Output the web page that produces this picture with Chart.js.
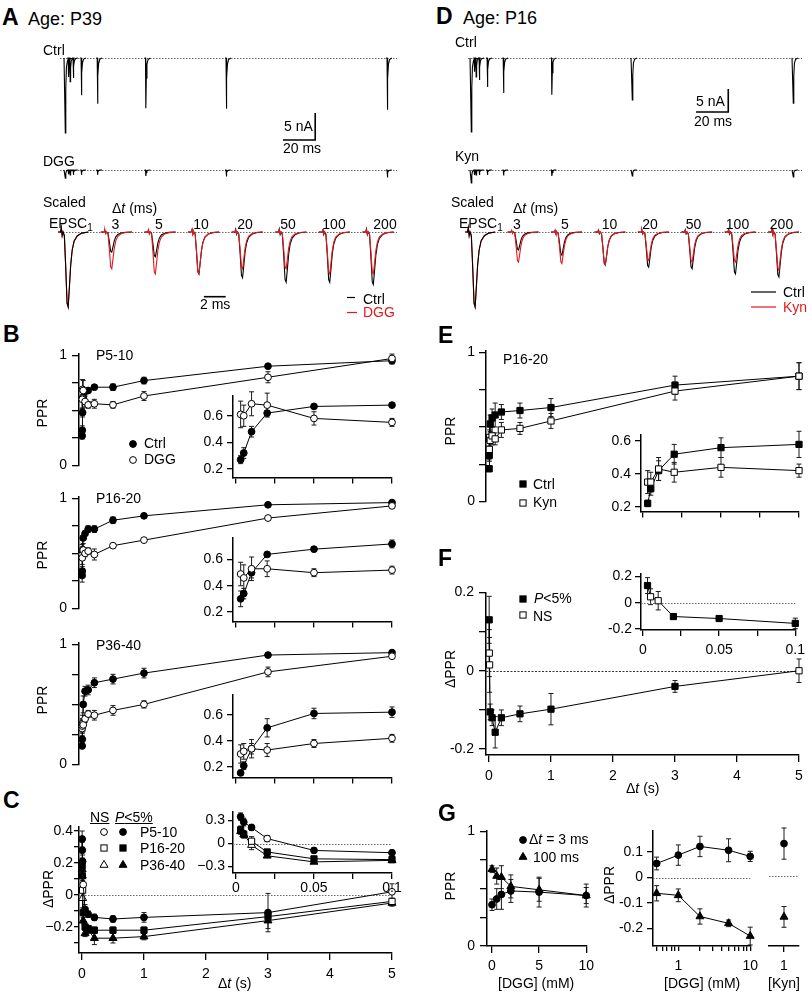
<!DOCTYPE html>
<html><head><meta charset="utf-8">
<script src="https://cdn.jsdelivr.net/npm/chart.js@4.4.1/dist/chart.umd.min.js"></script>
<style>
html,body{margin:0;padding:0;background:#fff;}
#root{position:relative;width:812px;height:992px;overflow:hidden;background:#fff;font-family:"Liberation Sans",Arial,Helvetica,sans-serif;color:#000;}
#root canvas{position:absolute;}
.t{position:absolute;white-space:nowrap;line-height:1;}
.t sub{font-size:10px;vertical-align:-3px;line-height:0;}
</style></head><body><div id="root"></div>
<script>
// ================= DATA =================
// Raw traces (A: P39, D: P16): stimulus times (ms) and EPSC peak amplitude (nA)
const rawTimes  = [0, 2, 3, 5, 10, 20, 50, 100, 200];
const ampA_ctrl = [13.9, 3.5, 4.4, 3.7, 6.9, 8.5, 9.3, 9.4, 9.6];
const ampA_dgg  = [1.5, 0.8, 0.9, 0.9, 0.9, 0.9, 1.1, 1.2, 1.4];
const ampD_ctrl = [16.1, 3.0, 4.1, 4.8, 6.3, 7.6, 8.0, 9.1, 9.8];
const ampD_kyn  = [2.8, 1.1, 1.1, 1.1, 1.1, 1.2, 1.3, 1.3, 1.5];
// Normalised EPSC shapes
const rawShapeT  = [-0.6, 0, 0.2, 0.5, 0.9, 1.6, 3.0];
const rawShapeY  = [0, 0, -1, -0.4, -0.12, -0.03, 0];
const epscShapeT = [-0.35, -0.05, 0.02, 0.1, 0.18, 0.3, 0.42, 0.55, 0.65, 0.76, 0.88, 1.02, 1.2, 1.5, 1.9, 2.5];
const epscShapeY = [0, 0, 0.06, -0.05, 0, -0.05, -0.45, -0.95, -1, -0.74, -0.44, -0.24, -0.12, -0.05, -0.015, 0];
// Scaled EPSCs (EPSC1 then EPSC2 at each interval), normalised to EPSC1
const scaledIntervals = [3, 5, 10, 20, 50, 100, 200];
const scaledA_ctrl = [1, 0.27, 0.33, 0.56, 0.61, 0.67, 0.67, 0.70];
const scaledA_dgg  = [1, 0.49, 0.56, 0.56, 0.49, 0.49, 0.56, 0.56];
const scaledD_ctrl = [1, 0.24, 0.31, 0.44, 0.47, 0.49, 0.56, 0.60];
const scaledD_kyn  = [1, 0.40, 0.42, 0.44, 0.38, 0.40, 0.40, 0.51];

// Paired-pulse intervals (s)
const dt = [0.003, 0.005, 0.01, 0.02, 0.05, 0.1, 0.2, 0.5, 1, 3, 5];
// B: PPR
const b1Ctrl = [0.27, 0.32, 0.48, 0.62, 0.67, 0.68, 0.71, 0.71, 0.77, 0.90, 0.95];
const b1CtrlErr = [0.03, 0.04, 0.04, 0.02, 0.01, 0.01, 0.02, 0.03, 0.03, 0.01, 0.03];
const b1Dgg = [0.61, 0.60, 0.69, 0.68, 0.58, 0.55, 0.56, 0.55, 0.63, 0.80, 0.97];
const b1DggErr = [0.10, 0.08, 0.09, 0.09, 0.05, 0.03, 0.04, 0.03, 0.04, 0.05, 0.04];
const b2Ctrl = [0.30, 0.34, 0.50, 0.64, 0.68, 0.72, 0.72, 0.80, 0.84, 0.94, 0.96];
const b2CtrlErr = [0.06, 0.04, 0.04, 0.01, 0.01, 0.03, 0.03, 0.03, 0.01, 0.01, 0.01];
const b2Dgg = [0.49, 0.46, 0.53, 0.53, 0.50, 0.52, 0.49, 0.57, 0.62, 0.82, 0.93];
const b2DggErr = [0.09, 0.10, 0.09, 0.06, 0.03, 0.03, 0.05, 0.02, 0.01, 0.02, 0.01];
const b3Ctrl = [0.155, 0.21, 0.34, 0.50, 0.61, 0.62, 0.68, 0.71, 0.76, 0.91, 0.93];
const b3CtrlErr = [0.02, 0.03, 0.04, 0.07, 0.04, 0.04, 0.04, 0.04, 0.04, 0.01, 0.01];
const b3Dgg = [0.30, 0.32, 0.34, 0.33, 0.38, 0.42, 0.41, 0.45, 0.50, 0.77, 0.90];
const b3DggErr = [0.07, 0.06, 0.07, 0.05, 0.03, 0.03, 0.04, 0.04, 0.03, 0.04, 0.01];
// C: delta PPR (1 = P<5%, 0 = NS)
const cP5 = [0.35, 0.28, 0.21, 0.065, -0.09, -0.12, -0.14, -0.15, -0.14, -0.11, 0.02];
const cP5Err = [0.05, 0.05, 0.04, 0.04, 0.03, 0.02, 0.02, 0.02, 0.03, 0.12, 0.05];
const cP5Sig = [1, 1, 1, 0, 1, 1, 1, 1, 1, 1, 0];
const cP16 = [0.18, 0.12, 0.03, -0.11, -0.20, -0.21, -0.22, -0.22, -0.22, -0.135, -0.04];
const cP16Err = [0.05, 0.04, 0.06, 0.02, 0.02, 0.02, 0.02, 0.02, 0.02, 0.03, 0.02];
const cP16Sig = [1, 1, 0, 1, 1, 1, 1, 1, 1, 1, 0];
const cP36 = [0.16, 0.12, -0.02, -0.16, -0.24, -0.22, -0.27, -0.27, -0.26, -0.16, -0.05];
const cP36Err = [0.04, 0.05, 0.06, 0.02, 0.02, 0.02, 0.04, 0.03, 0.02, 0.05, 0.02];
const cP36Sig = [1, 1, 0, 1, 1, 1, 1, 1, 1, 1, 1];
// E: PPR P16-20, Ctrl vs Kyn
const eCtrl = [0.22, 0.31, 0.42, 0.52, 0.56, 0.58, 0.60, 0.61, 0.63, 0.78, 0.84];
const eCtrlErr = [0.02, 0.04, 0.06, 0.06, 0.06, 0.08, 0.05, 0.05, 0.06, 0.06, 0.09];
const eKyn = [0.35, 0.35, 0.43, 0.41, 0.44, 0.42, 0.48, 0.49, 0.54, 0.74, 0.84];
const eKynErr = [0.07, 0.06, 0.07, 0.06, 0.06, 0.04, 0.05, 0.04, 0.05, 0.06, 0.09];
// F: delta PPR (Kyn - Ctrl)
const fDelta = [0.13, 0.045, 0.015, -0.105, -0.12, -0.157, -0.12, -0.11, -0.098, -0.04, 0.0];
const fDeltaErr = [0.06, 0.06, 0.07, 0.02, 0.02, 0.04, 0.02, 0.02, 0.04, 0.015, 0.03];
const fSig = [1, 0, 0, 1, 1, 1, 1, 1, 1, 1, 0];
// G: DGG dose dependence
const dggConc = [0, 0.5, 1, 2, 5, 10];
const g3ms = [0.36, 0.41, 0.45, 0.48, 0.47, 0.44];
const g3msErr = [0.05, 0.09, 0.13, 0.10, 0.13, 0.07];
const g100ms = [0.67, 0.61, 0.60, 0.52, 0.49, 0.44];
const g100msErr = [0.03, 0.07, 0.10, 0.10, 0.10, 0.10];
const dggConcLog = [0.5, 1, 2, 5, 10];
const gD3ms = [0.055, 0.088, 0.122, 0.107, 0.083];
const gD3msErr = [0.025, 0.04, 0.04, 0.045, 0.02];
const gD100ms = [-0.062, -0.07, -0.153, -0.18, -0.23];
const gD100msErr = [0.03, 0.025, 0.03, 0.013, 0.035];
const kynConc = [1];
const kynD3ms = [0.125], kynD3msErr = [0.06];
const kynD100ms = [-0.157], kynD100msErr = [0.04];

// ================= HELPERS =================
const root = document.getElementById('root');
const FAM = '"Liberation Sans", Arial, Helvetica, sans-serif';
Chart.defaults.font.family = FAM;
const RED = '#e3191c';

const errorBars = {
  id: 'errorBars',
  beforeDatasetsDraw(chart) {
    const ctx = chart.ctx;
    chart.data.datasets.forEach((ds, i) => {
      if (!ds.errors) return;
      const meta = chart.getDatasetMeta(i);
      const ys = chart.scales.y;
      ctx.save();
      ctx.strokeStyle = '#1a1a1a'; ctx.lineWidth = 1;
      meta.data.forEach((pt, j) => {
        const e = ds.errors[j], v = ds.data[j];
        if (e == null || !v || v.y == null) return;
        const top = ys.getPixelForValue(v.y + e), bot = ys.getPixelForValue(v.y - e), x = pt.x, cw = 2.5;
        ctx.beginPath();
        ctx.moveTo(x, top); ctx.lineTo(x, bot);
        ctx.moveTo(x - cw, top); ctx.lineTo(x + cw, top);
        ctx.moveTo(x - cw, bot); ctx.lineTo(x + cw, bot);
        ctx.stroke();
      });
      ctx.restore();
    });
  }
};
const zeroLine = {
  id: 'zeroLine',
  beforeDatasetsDraw(chart, args, opts) {
    if (!opts || !opts.show) return;
    const {ctx, chartArea: a} = chart;
    const y = Math.round(chart.scales.y.getPixelForValue(0)) + 0.5;
    ctx.save();
    ctx.setLineDash(opts.dash || [1.5, 1.5]);
    ctx.strokeStyle = opts.color || '#555'; ctx.lineWidth = 1;
    ctx.beginPath(); ctx.moveTo(a.left, y); ctx.lineTo(a.right, y); ctx.stroke();
    ctx.restore();
  }
};
Chart.register(errorBars, zeroLine);

function axis(o) {
  if (o.display === false) return {type: o.type || 'linear', display: false, min: o.min, max: o.max, bounds: 'data'};
  const labs = o.labels || [];
  return {
    type: o.type || 'linear', min: o.min, max: o.max, bounds: 'data',
    afterBuildTicks: s => { s.ticks = o.ticks.map(v => ({value: v})); },
    afterFit: s => { if (s.isHorizontal()) s.height = o.size; else s.width = o.size; },
    ticks: {autoSkip: false, maxRotation: 0, minRotation: 0, padding: o.pad ?? 4, color: '#000',
      font: {family: FAM, size: 14},
      callback: v => { const f = labs.find(p => Math.abs(p[0] - v) < 1e-9); return f ? f[1] : ''; }},
    grid: {display: true, drawOnChartArea: false, drawTicks: true, tickLength: o.tickLen ?? 6,
      tickWidth: 1.3, tickColor: '#000', color: '#000', lineWidth: 1.3},
    border: {display: true, color: '#000', width: 1.5}
  };
}

function makeChart(o) {
  const ml = o.ml ?? 40, mt = o.mt ?? 10, mr = o.mr ?? 12, mb = o.mb ?? 4;
  const W = o.x1 - o.x0 + ml + mr, H = o.y1 - o.y0 + mt + mb;
  const cv = document.createElement('canvas');
  cv.width = W; cv.height = H;
  cv.style.left = (o.x0 - ml) + 'px'; cv.style.top = (o.y0 - mt) + 'px';
  cv.style.width = W + 'px'; cv.style.height = H + 'px';
  root.appendChild(cv);
  const xd = o.x.display !== false, yd = o.y.display !== false;
  return new Chart(cv, {
    type: 'line',
    data: {datasets: o.datasets},
    options: {
      responsive: false, animation: false, events: [],
      layout: {autoPadding: false, padding: {left: yd ? 0 : ml, top: mt, right: mr, bottom: xd ? 0 : mb}},
      scales: {x: axis(Object.assign({size: mb}, o.x)), y: axis(Object.assign({size: ml}, o.y))},
      plugins: {legend: {display: false}, tooltip: {enabled: false}, zeroLine: o.zero || {show: false}},
      elements: {line: {tension: 0}}
    }
  });
}

function series(xs, ys, errs, opt) {
  return Object.assign({
    data: xs.map((x, i) => ({x, y: ys[i]})),
    errors: errs,
    borderColor: '#000', borderWidth: 1, fill: false, tension: 0, clip: false,
    pointStyle: 'circle', pointRadius: 3.4, pointBorderWidth: 1, pointBorderColor: '#000',
    pointBackgroundColor: '#000'
  }, opt);
}
const upTo = (arr, n) => arr.slice(0, n);
const fillOf = sig => sig.map(s => s ? '#000' : '#fff');

function rawTrace(times, amps) {
  const pts = [];
  times.forEach((t, k) => {
    rawShapeT.forEach((d, i) => pts.push({x: t + d, y: rawShapeY[i] * amps[k]}));
    pts.push({x: t + 3.1, y: null});
  });
  return pts;
}
const segStart = 0.1, segSpacing = 4;
function scaledTrace(amps, from, to) {
  const pts = [];
  amps.forEach((a, k) => {
    if (k < from || k > to) return;
    const s = segStart + segSpacing * k;
    epscShapeT.forEach((d, i) => pts.push({x: s + d, y: epscShapeY[i] * a}));
    pts.push({x: s + 2.7, y: null});
  });
  return pts;
}
function traceDS(pts, color, order, w) {
  return {data: pts, borderColor: color, borderWidth: w || 1.1, pointRadius: 0, spanGaps: false, clip: false, order: order || 0, tension: 0};
}
function barDS(pts) { return {data: pts, borderColor: '#000', borderWidth: 1.6, pointRadius: 0, clip: false, tension: 0}; }
// EPSC1 black on top, red EPSC2s above black EPSC2s
function scaledSets(black, red) {
  return [traceDS(scaledTrace(black, 0, 0), '#000', 0),
          traceDS(scaledTrace(red, 0, 99), RED, 1),
          traceDS(scaledTrace(black, 1, 99), '#000', 2)];
}

function txt(x, base, html, o = {}) {
  const fs = o.size || 14;
  const d = document.createElement('div');
  d.className = 't'; d.innerHTML = html;
  d.style.fontSize = fs + 'px';
  d.style.left = x + 'px'; d.style.top = (base - 0.8465 * fs) + 'px';
  if (o.bold) d.style.fontWeight = 'bold';
  if (o.color) d.style.color = o.color;
  if (o.align === 'center') d.style.transform = 'translateX(-50%)';
  if (o.align === 'right') d.style.transform = 'translateX(-100%)';
  root.appendChild(d);
}
function vtxt(cx, cy, html) {
  const d = document.createElement('div');
  d.className = 't'; d.innerHTML = html; d.style.fontSize = '14px';
  d.style.left = cx + 'px'; d.style.top = cy + 'px';
  d.style.transform = 'translate(-50%,-50%) rotate(-90deg)';
  root.appendChild(d);
}

// ================= PANEL A / D : TRACES =================
const dotted = {show: true, color: '#666', dash: [1.5, 1.5]};
const sbA = {t0: 135.4, y0: -15.2, ms: 20, nA: 5};
const sbD = {t0: 139.8, y0: -11.74, ms: 20, nA: 5};
const sb2 = {t0: 13.2, y0: -0.863, ms: 2};

makeChart({x0: 60, x1: 397, y0: 50, y1: 147, ml: 2, mt: 2, mr: 2, mb: 2,
  x: {display: false, min: -3.1, max: 206.2}, y: {display: false, min: -16.5, max: 1.48}, zero: dotted,
  datasets: [traceDS(rawTrace(rawTimes, ampA_ctrl), '#000'),
    barDS([{x: sbA.t0, y: sbA.y0}, {x: sbA.t0 + sbA.ms, y: sbA.y0}, {x: sbA.t0 + sbA.ms, y: sbA.y0 + sbA.nA}])]});
makeChart({x0: 60, x1: 397, y0: 164, y1: 182, ml: 2, mt: 2, mr: 2, mb: 2,
  x: {display: false, min: -3.1, max: 206.2}, y: {display: false, min: -2.22, max: 1.11}, zero: dotted,
  datasets: [traceDS(rawTrace(rawTimes, ampA_dgg), '#000')]});
makeChart({x0: 60, x1: 397, y0: 222, y1: 312, ml: 2, mt: 2, mr: 2, mb: 2,
  x: {display: false, min: 0, max: 30.92}, y: {display: false, min: -1.067, max: 0.133}, zero: dotted,
  datasets: scaledSets(scaledA_ctrl, scaledA_dgg).concat([barDS([{x: sb2.t0, y: sb2.y0}, {x: sb2.t0 + sb2.ms, y: sb2.y0}])])});

makeChart({x0: 468, x1: 802, y0: 50, y1: 135, ml: 2, mt: 2, mr: 2, mb: 2,
  x: {display: false, min: -1.86, max: 205.6}, y: {display: false, min: -16.74, max: 1.74}, zero: dotted,
  datasets: [traceDS(rawTrace(rawTimes, ampD_ctrl), '#000'),
    barDS([{x: sbD.t0, y: sbD.y0}, {x: sbD.t0 + sbD.ms, y: sbD.y0}, {x: sbD.t0 + sbD.ms, y: sbD.y0 + sbD.nA}])]});
makeChart({x0: 468, x1: 802, y0: 164, y1: 186, ml: 2, mt: 2, mr: 2, mb: 2,
  x: {display: false, min: -1.86, max: 205.6}, y: {display: false, min: -3.48, max: 1.30}, zero: dotted,
  datasets: [traceDS(rawTrace(rawTimes, ampD_kyn), '#000')]});
makeChart({x0: 467, x1: 802, y0: 222, y1: 312, ml: 2, mt: 2, mr: 2, mb: 2,
  x: {display: false, min: 0, max: 30.88}, y: {display: false, min: -1.067, max: 0.133}, zero: dotted,
  datasets: scaledSets(scaledD_ctrl, scaledD_kyn)});

// ================= PANEL B =================
const pprY = {ticks: [0, 0.25, 0.5, 0.75, 1], labels: [[0, '0'], [1, '1']], tickLen: 7, pad: 5};
const xMain = {display: false, min: -0.048, max: 5};
const insetX = {min: -0.0019, max: 0.1, ticks: [0, 0.025, 0.05, 0.075, 0.1], labels: [], tickLen: 6};
const insetY = {ticks: [0.2, 0.4, 0.6], labels: [[0.2, '0.2'], [0.4, '0.4'], [0.6, '0.6']], tickLen: 6, pad: 4};
function bPanel(y0, y1, ymax, iy0, iy1, imin, imax, ctrl, ctrlErr, dgg, dggErr) {
  makeChart({x0: 79, x1: 392, y0, y1, x: xMain, y: Object.assign({min: 0, max: ymax}, pprY),
    datasets: [series(dt, dgg, dggErr, {pointBackgroundColor: '#fff'}), series(dt, ctrl, ctrlErr)]});
  makeChart({x0: 233, x1: 392, y0: iy0, y1: iy1, mb: 12, x: insetX, y: Object.assign({min: imin, max: imax}, insetY),
    datasets: [series(upTo(dt, 6), upTo(dgg, 6), upTo(dggErr, 6), {pointBackgroundColor: '#fff'}),
               series(upTo(dt, 6), upTo(ctrl, 6), upTo(ctrlErr, 6))]});
}
bPanel(350, 475, 1.016, 393, 478, 0.135, 0.753, b1Ctrl, b1CtrlErr, b1Dgg, b1DggErr);
bPanel(493, 618, 1.016, 535, 622, 0.126, 0.77, b2Ctrl, b2CtrlErr, b2Dgg, b2DggErr);
bPanel(639, 774, 1.015, 692, 778, 0.119, 0.756, b3Ctrl, b3CtrlErr, b3Dgg, b3DggErr);

// ================= PANEL C =================
function cSets(n) {
  return [
    series(upTo(dt, n), upTo(cP5, n), upTo(cP5Err, n), {pointBackgroundColor: fillOf(upTo(cP5Sig, n))}),
    series(upTo(dt, n), upTo(cP16, n), upTo(cP16Err, n), {pointStyle: 'rect', pointRadius: 4.4, pointBackgroundColor: fillOf(upTo(cP16Sig, n))}),
    series(upTo(dt, n), upTo(cP36, n), upTo(cP36Err, n), {pointStyle: 'triangle', pointRadius: 4.6, pointBackgroundColor: fillOf(upTo(cP36Sig, n))})
  ];
}
makeChart({x0: 79, x1: 392, y0: 827, y1: 953, ml: 50, mb: 40,
  x: {min: -0.048, max: 5, ticks: [0, 1, 2, 3, 4, 5], labels: [[0, '0'], [1, '1'], [2, '2'], [3, '3'], [4, '4'], [5, '5']], tickLen: 7, pad: 6},
  y: {min: -0.3625, max: 0.425, ticks: [-0.3, -0.2, -0.1, 0, 0.1, 0.2, 0.3, 0.4], labels: [[0.4, '0.4'], [0.2, '0.2'], [0, '0'], [-0.2, '\u22120.2']], tickLen: 5, pad: 1},
  zero: dotted, datasets: cSets(11)});
makeChart({x0: 233, x1: 392, y0: 810, y1: 873, ml: 45, mb: 26,
  x: {min: -0.0019, max: 0.1, ticks: [0, 0.025, 0.05, 0.075, 0.1], labels: [[0, '0'], [0.05, '0.05'], [0.1, '0.1']], tickLen: 6, pad: 1},
  y: {min: -0.385, max: 0.42, ticks: [-0.3, 0, 0.3], labels: [[0.3, '0.3'], [0, '0'], [-0.3, '\u22120.3']], tickLen: 5, pad: 3},
  zero: dotted, datasets: cSets(6)});

// ================= PANEL E =================
makeChart({x0: 486, x1: 799, y0: 348, y1: 510, x: xMain, y: Object.assign({min: 0, max: 1.0125}, pprY, {pad: 4}),
  datasets: [series(dt, eKyn, eKynErr, {pointStyle: 'rect', pointRadius: 4.4, pointBackgroundColor: '#fff'}),
             series(dt, eCtrl, eCtrlErr, {pointStyle: 'rect', pointRadius: 4.4})]});
makeChart({x0: 641, x1: 799, y0: 432, y1: 512, mb: 12,
  x: Object.assign({}, insetX, {min: -0.00128}), y: Object.assign({min: 0.17, max: 0.641}, insetY),
  datasets: [series(upTo(dt, 6), upTo(eKyn, 6), upTo(eKynErr, 6), {pointStyle: 'rect', pointRadius: 4.4, pointBackgroundColor: '#fff'}),
             series(upTo(dt, 6), upTo(eCtrl, 6), upTo(eCtrlErr, 6), {pointStyle: 'rect', pointRadius: 4.4})]});

// ================= PANEL F =================
makeChart({x0: 486, x1: 799, y0: 589, y1: 755, ml: 50, mb: 40,
  x: {min: -0.048, max: 5, ticks: [0, 1, 2, 3, 4, 5], labels: [[0, '0'], [1, '1'], [2, '2'], [3, '3'], [4, '4'], [5, '5']], tickLen: 7, pad: 6},
  y: {min: -0.215, max: 0.2, ticks: [-0.2, -0.1, 0, 0.1, 0.2], labels: [[0.2, '0.2'], [0, '0'], [-0.2, '-0.2']], tickLen: 7, pad: 5},
  zero: {show: true, color: '#333', dash: [2, 1.5]},
  datasets: [series(dt, fDelta, fDeltaErr, {pointStyle: 'rect', pointRadius: 4.4, pointBackgroundColor: fillOf(fSig)})]});
makeChart({x0: 641, x1: 799, y0: 572, y1: 630, ml: 45, mb: 30,
  x: {min: -0.00128, max: 0.1, ticks: [0, 0.025, 0.05, 0.075, 0.1], labels: [[0, '0'], [0.05, '0.05'], [0.1, '0.1']], tickLen: 6, pad: 6},
  y: {min: -0.207, max: 0.222, ticks: [-0.2, 0, 0.2], labels: [[0.2, '0.2'], [0, '0'], [-0.2, '-0.2']], tickLen: 6, pad: 3},
  zero: dotted,
  datasets: [series(upTo(dt, 6), upTo(fDelta, 6), upTo(fDeltaErr, 6), {pointStyle: 'rect', pointRadius: 4.4, pointBackgroundColor: fillOf(upTo(fSig, 6))})]});

// ================= PANEL G =================
makeChart({x0: 487, x1: 587, y0: 827, y1: 946, ml: 40, mb: 40,
  x: {min: -0.53, max: 10, ticks: [0, 5, 10], labels: [[0, '0'], [5, '5'], [10, '10']], tickLen: 7, pad: 5},
  y: Object.assign({min: 0, max: 1.008}, pprY),
  datasets: [series(dggConc, g100ms, g100msErr, {pointStyle: 'triangle', pointRadius: 4.6}),
             series(dggConc, g3ms, g3msErr)]});
makeChart({x0: 653, x1: 753, y0: 828, y1: 946, ml: 45, mb: 40,
  x: {type: 'logarithmic', min: 0.445, max: 10, ticks: [0.5, 0.6, 0.7, 0.8, 0.9, 1, 2, 3, 4, 5, 6, 7, 8, 9, 10], labels: [[1, '1'], [10, '10']], tickLen: 5, pad: 7},
  y: {min: -0.269, max: 0.185, ticks: [-0.2, -0.1, 0, 0.1], labels: [[0.1, '0.1'], [0, '0'], [-0.1, '-0.1'], [-0.2, '-0.2']], tickLen: 6, pad: 4},
  zero: dotted,
  datasets: [series(dggConcLog, gD3ms, gD3msErr), series(dggConcLog, gD100ms, gD100msErr, {pointStyle: 'triangle', pointRadius: 4.6})]});
makeChart({x0: 769, x1: 799, y0: 828, y1: 946, ml: 4, mr: 8, mb: 40,
  x: {min: 0, max: 2, ticks: [1], labels: [[1, '1']], tickLen: 6, pad: 6},
  y: {display: false, min: -0.269, max: 0.185},
  zero: dotted,
  datasets: [series(kynConc, kynD3ms, kynD3msErr, {showLine: false}),
             series(kynConc, kynD100ms, kynD100msErr, {showLine: false, pointStyle: 'triangle', pointRadius: 4.6})]});

// ================= TEXT =================
[['A', 2, 25], ['B', 3, 342], ['C', 3, 808], ['D', 436, 24], ['E', 438, 343], ['F', 438, 566], ['G', 438, 821]]
  .forEach(([s, x, b]) => txt(x, b, s, {size: 23, bold: true}));
txt(28, 25, 'Age: P39', {size: 18});
txt(463, 24, 'Age: P16', {size: 18});
// A
txt(43, 55, 'Ctrl'); txt(284, 131, '5 nA'); txt(283, 153, '20 ms'); txt(43, 166, 'DGG');
txt(43, 207, 'Scaled'); txt(49, 228, 'EPSC<sub>1</sub>'); txt(112, 213, '\u0394<i>t</i> (ms)');
const aLblX = [115.5, 159, 201, 245, 288, 334, 385];
scaledIntervals.forEach((v, i) => txt(aLblX[i], 229, String(v), {align: 'center'}));
txt(200, 309, '2 ms');
txt(363, 304, 'Ctrl'); txt(363, 317, 'DGG', {color: RED});
// D
txt(455, 47, 'Ctrl'); txt(696, 106, '5 nA'); txt(694, 126, '20 ms'); txt(455, 161, 'Kyn');
txt(451, 207, 'Scaled'); txt(459, 228, 'EPSC<sub>1</sub>'); txt(513, 213, '\u0394<i>t</i> (ms)');
const dLblX = [517, 565, 609.5, 650, 693.5, 737.5, 781.5];
scaledIntervals.forEach((v, i) => txt(dLblX[i], 229, String(v), {align: 'center'}));
txt(783, 297, 'Ctrl'); txt(783, 312, 'Kyn', {color: RED});
// B
txt(96, 360, 'P5-10'); txt(96, 503, 'P16-20'); txt(96, 650, 'P36-40');
vtxt(41.5, 412.5, 'PPR'); vtxt(41.5, 555, 'PPR'); vtxt(41.5, 700, 'PPR');
txt(144, 448, 'Ctrl'); txt(144, 464, 'DGG');
// C
txt(90, 822, '<u>NS</u>'); txt(115, 822, '<u><i>P</i>&lt;5%</u>');
txt(140, 837, 'P5-10'); txt(140, 853, 'P16-20'); txt(140, 870, 'P36-40');
vtxt(48, 889, '\u0394PPR');
txt(218, 988, '\u0394<i>t</i> (s)');
// E
txt(503, 364, 'P16-20'); vtxt(449.5, 430.5, 'PPR');
txt(533, 489, 'Ctrl'); txt(533, 507, 'Kyn');
// F
txt(534, 603, '<i>P</i>&lt;5%'); txt(533, 621, 'NS');
vtxt(450, 669, '\u0394PPR'); txt(626, 793, '\u0394<i>t</i> (s)');
// G
txt(529, 844, '\u0394<i>t</i> = 3 ms'); txt(533, 862, '100 ms');
vtxt(449.5, 886, 'PPR'); txt(498, 988, '[DGG] (mM)');
vtxt(608.5, 885, '\u0394PPR'); txt(664, 988, '[DGG] (mM)'); txt(768, 988, '[Kyn]');

// ================= LEGEND SYMBOLS =================
const NS = 'http://www.w3.org/2000/svg';
const svg = document.createElementNS(NS, 'svg');
svg.setAttribute('width', 812); svg.setAttribute('height', 992);
svg.style.cssText = 'position:absolute;left:0;top:0;pointer-events:none';
root.appendChild(svg);
function sym(x, y, shape, filled, r) {
  let el;
  if (shape === 'circle') {
    el = document.createElementNS(NS, 'circle');
    el.setAttribute('cx', x); el.setAttribute('cy', y); el.setAttribute('r', r);
  } else if (shape === 'rect') {
    const s = r * Math.SQRT1_2;
    el = document.createElementNS(NS, 'rect');
    el.setAttribute('x', x - s); el.setAttribute('y', y - s); el.setAttribute('width', 2 * s); el.setAttribute('height', 2 * s);
  } else {
    el = document.createElementNS(NS, 'polygon');
    el.setAttribute('points', [0, 1, 2].map(k => { const a = k * 2 * Math.PI / 3; return (x + Math.sin(a) * r) + ',' + (y - Math.cos(a) * r); }).join(' '));
  }
  el.setAttribute('fill', filled ? '#000' : '#fff'); el.setAttribute('stroke', '#000'); el.setAttribute('stroke-width', 1);
  svg.appendChild(el);
}
function seg(x0, x1, y, color, w) {
  const l = document.createElementNS(NS, 'line');
  l.setAttribute('x1', x0); l.setAttribute('x2', x1); l.setAttribute('y1', y); l.setAttribute('y2', y);
  l.setAttribute('stroke', color); l.setAttribute('stroke-width', w || 1.2);
  svg.appendChild(l);
}
seg(347, 355, 297.5, '#000'); seg(347, 357, 312.5, RED);
seg(751, 776, 292, '#000'); seg(751, 776, 307, RED);
sym(133, 444, 'circle', true, 3.4); sym(133, 460, 'circle', false, 3.4);
sym(104, 832, 'circle', false, 3.4); sym(123, 832, 'circle', true, 3.4);
sym(104, 848, 'rect', false, 4.4); sym(123, 848, 'rect', true, 4.4);
sym(104, 865, 'triangle', false, 4.6); sym(123, 865, 'triangle', true, 4.6);
sym(523, 484, 'rect', true, 4.4); sym(523, 503, 'rect', false, 4.4);
sym(523, 599, 'rect', true, 4.4); sym(523, 615, 'rect', false, 4.4);
sym(523, 840, 'circle', true, 3.4); sym(523, 857, 'triangle', true, 4.6);
</script></body></html>
